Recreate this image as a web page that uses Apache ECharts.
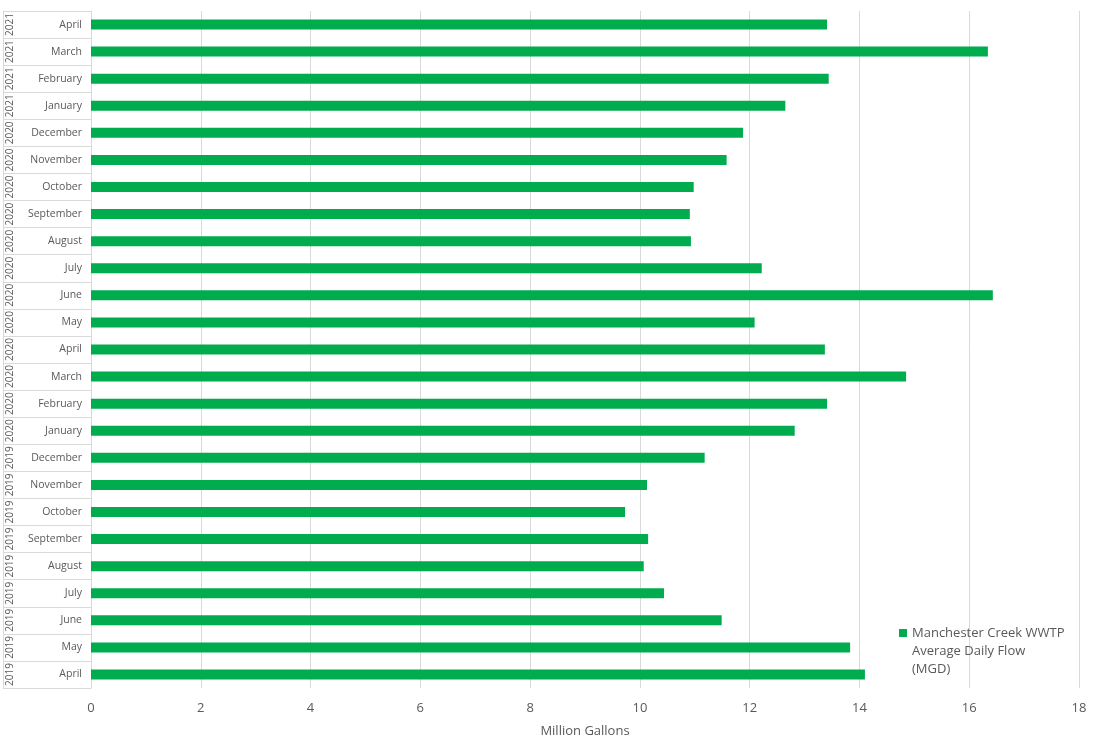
<!DOCTYPE html>
<html>
<head>
<meta charset="utf-8">
<script src="https://cdn.jsdelivr.net/npm/echarts@6/dist/echarts.min.js"></script>
<style>
html,body{margin:0;padding:0;background:#fff;}
#chart{width:1104px;height:745px;}
</style>
</head>
<body>
<div id="chart"></div>
<script>
// Categories listed bottom to top
const months = ['April','May','June','July','August','September','October','November','December',
  'January','February','March','April','May','June','July','August','September','October','November','December',
  'January','February','March','April'];
const years = ['2019','2019','2019','2019','2019','2019','2019','2019','2019',
  '2020','2020','2020','2020','2020','2020','2020','2020','2020','2020','2020','2020',
  '2021','2021','2021','2021'];
const flowValues = [14.10, 13.83, 11.49, 10.44, 10.07, 10.15, 9.73, 10.13, 11.18,
  12.82, 13.41, 14.85, 13.37, 12.09, 16.43, 12.22, 10.93, 10.91, 10.98, 11.58, 11.88,
  12.65, 13.44, 16.34, 13.41];
const seriesName = 'Manchester Creek WWTP Average Daily Flow (MGD)';
const xTicks = {min: 0, max: 18, interval: 2};

const FONT = '"Open Sans", "Noto Sans", sans-serif';
const chart = echarts.init(document.getElementById('chart'));
chart.setOption({
  animation: false,
  backgroundColor: '#ffffff',
  textStyle: {fontFamily: FONT},
  grid: {left: 91, right: 25, top: 11, bottom: 57, containLabel: false},
  legend: {
    left: 899, top: 624, padding: 0,
    itemWidth: 8, itemHeight: 44, itemGap: 0,
    icon: 'path://M0,0L8,0L8,8L0,8Z M0,44L8,44',
    data: [seriesName],
    formatter: () => 'Manchester Creek WWTP\nAverage Daily Flow\n(MGD)',
    textStyle: {color: '#595959', fontSize: 13, fontFamily: FONT, lineHeight: 18}
  },
  xAxis: {
    type: 'value', min: xTicks.min, max: xTicks.max, interval: xTicks.interval,
    name: 'Million Gallons', nameLocation: 'middle', nameGap: 37,
    nameTextStyle: {color: '#595959', fontSize: 13, fontFamily: FONT},
    axisLine: {show: false}, axisTick: {show: false},
    axisLabel: {color: '#595959', fontSize: 13, margin: 14, fontFamily: FONT},
    splitLine: {show: true, lineStyle: {color: '#d9d9d9', width: 1}}
  },
  yAxis: [
    {
      type: 'category', data: months, position: 'left',
      axisLine: {show: true, lineStyle: {color: '#d9d9d9'}},
      axisTick: {show: true, length: 88, lineStyle: {color: '#d9d9d9'}},
      axisLabel: {interval: 0, color: '#595959', fontSize: 10.5, margin: 9, fontFamily: FONT},
      splitLine: {show: false}
    },
    {
      type: 'category', data: years, position: 'left', offset: 88,
      axisLine: {show: true, lineStyle: {color: '#d9d9d9'}},
      axisTick: {show: false},
      axisLabel: {interval: 0, inside: true, rotate: 90, color: '#595959', fontSize: 10, margin: 2, fontFamily: FONT},
      splitLine: {show: false}
    }
  ],
  series: [{
    name: seriesName, type: 'bar', yAxisIndex: 0,
    data: flowValues, barWidth: 10,
    itemStyle: {color: '#00AC4E', borderWidth: 0}
  }]
});
</script>
</body>
</html>
